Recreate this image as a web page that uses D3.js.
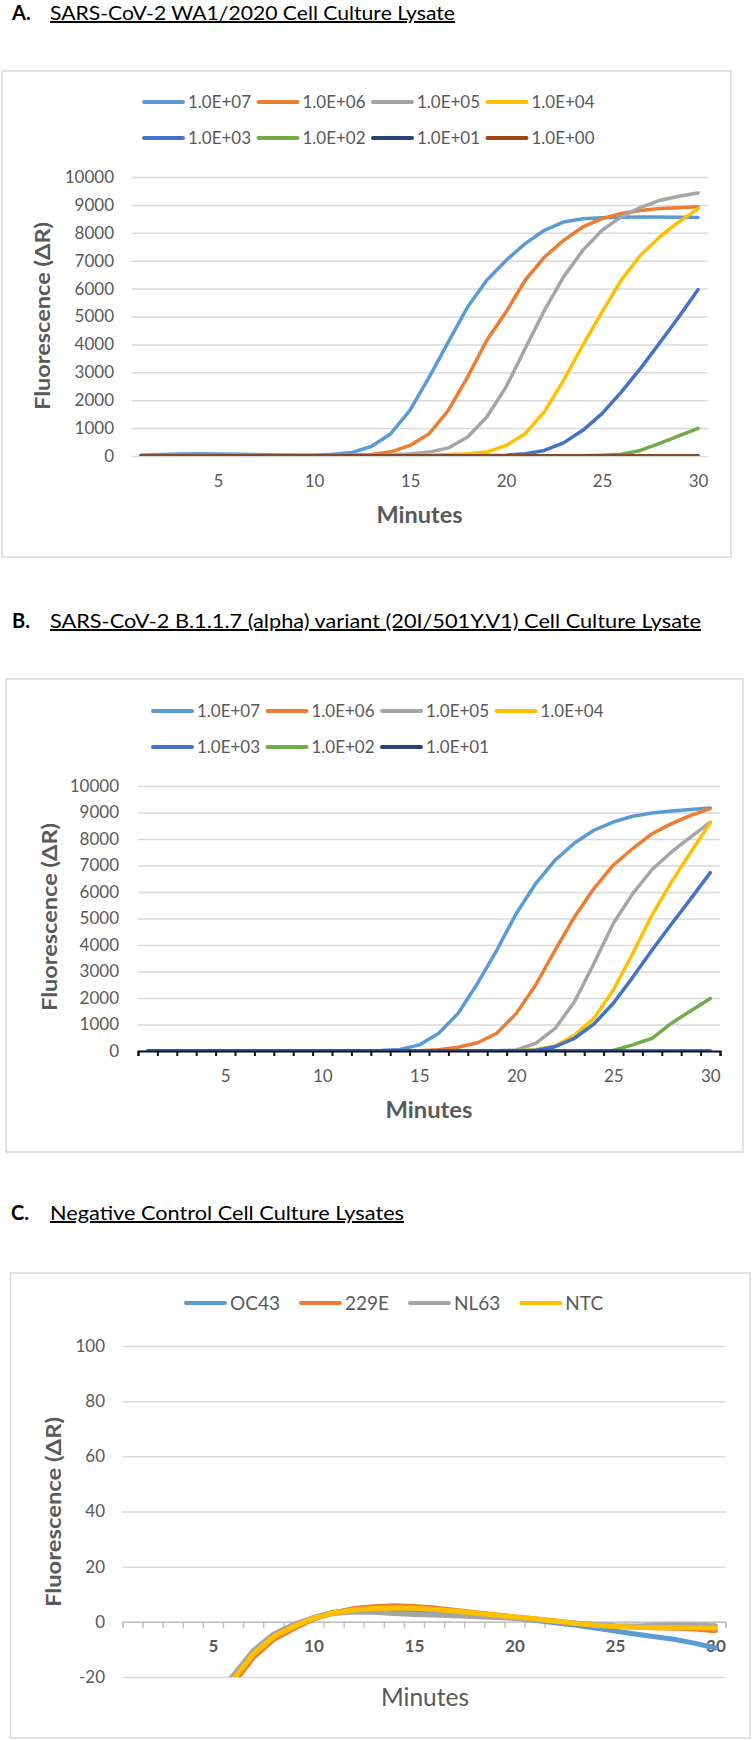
<!DOCTYPE html>
<html>
<head>
<meta charset="utf-8">
<script src="https://cdn.jsdelivr.net/npm/d3@7"></script>
<style>
  body { margin: 0; background: #fff; }
  svg text { font-family: Lato, "Open Sans", sans-serif; }
</style>
</head>
<body>
<div id="chart-area"></div>
<script>

    // ---- data ----
    var minutes = [1, 2, 3, 4, 5, 6, 7, 8, 9, 10, 11, 12, 13, 14, 15, 16, 17, 18, 19, 20, 21, 22, 23, 24, 25, 26, 27, 28, 29, 30];
    var xTickLabels = [5, 10, 15, 20, 25, 30];

    // A. WA1/2020
    var namesA = ['1.0E+07', '1.0E+06', '1.0E+05', '1.0E+04', '1.0E+03', '1.0E+02', '1.0E+01', '1.0E+00'];
    var a7 = [30, 50, 70, 80, 70, 60, 50, 40, 30, 30, 60, 130, 350, 800, 1640, 2830, 4090, 5340, 6300, 7010, 7610, 8090, 8390, 8500, 8540, 8560, 8570, 8570, 8560, 8550];
    var a6 = [20, 30, 40, 40, 40, 30, 30, 20, 20, 20, 20, 30, 50, 150, 380, 800, 1640, 2830, 4150, 5160, 6300, 7130, 7730, 8210, 8510, 8690, 8800, 8870, 8900, 8930];
    var a5 = [10, 20, 20, 20, 20, 20, 20, 20, 20, 20, 20, 20, 30, 40, 70, 140, 290, 680, 1400, 2470, 3850, 5220, 6420, 7370, 8090, 8570, 8900, 9160, 9310, 9430];
    var a4 = [10, 10, 10, 10, 10, 10, 10, 10, 10, 10, 10, 10, 10, 10, 20, 30, 50, 80, 140, 380, 800, 1580, 2710, 3970, 5160, 6300, 7190, 7850, 8390, 8860];
    var a3 = [0, 0, 0, 0, 0, 0, 0, 0, 0, 0, 0, 0, 0, 0, 0, 0, 0, 0, 20, 30, 80, 200, 470, 920, 1520, 2290, 3130, 4050, 4980, 5960];
    var a2 = [0, 0, 0, 0, 0, 0, 0, 0, 0, 0, 0, 0, 0, 0, 0, 0, 0, 0, 0, 0, 0, 0, 0, 10, 30, 60, 200, 450, 720, 990];
    var a1 = [5, 5, 5, 5, 5, 5, 5, 5, 5, 5, 5, 5, 5, 5, 5, 5, 5, 5, 5, 5, 5, 5, 5, 5, 5, 5, 10, 10, 10, 10];
    var a0 = [0, 0, 0, 0, 0, 0, 0, 0, 0, 0, 0, 0, 0, 0, 0, 0, 0, 0, 0, 0, 0, 0, 0, 0, 0, 0, 0, 0, 0, 0];

    // B. B.1.1.7
    var namesB = ['1.0E+07', '1.0E+06', '1.0E+05', '1.0E+04', '1.0E+03', '1.0E+02', '1.0E+01'];
    var b7 = [10, 10, 10, 10, 10, 10, 10, 10, 10, 10, 10, 10, 20, 60, 230, 670, 1420, 2550, 3810, 5190, 6320, 7200, 7850, 8330, 8640, 8860, 8980, 9060, 9110, 9170];
    var b6 = [10, 10, 10, 10, 10, 10, 10, 10, 10, 10, 10, 10, 10, 10, 10, 50, 140, 310, 670, 1420, 2490, 3810, 5060, 6130, 7010, 7640, 8200, 8580, 8890, 9150];
    var b5 = [10, 10, 10, 10, 10, 10, 10, 10, 10, 10, 10, 10, 10, 10, 10, 10, 10, 10, 10, 40, 290, 850, 1860, 3300, 4810, 5940, 6850, 7510, 8080, 8640];
    var b4 = [10, 10, 10, 10, 10, 10, 10, 10, 10, 10, 10, 10, 10, 10, 10, 10, 10, 10, 10, 10, 50, 190, 600, 1230, 2300, 3680, 5130, 6380, 7510, 8610];
    var b3 = [0, 0, 0, 0, 0, 0, 0, 0, 0, 0, 0, 0, 0, 0, 0, 0, 0, 0, 0, 0, 30, 160, 480, 1020, 1800, 2780, 3810, 4790, 5750, 6730];
    var b2 = [0, 0, 0, 0, 0, 0, 0, 0, 0, 0, 0, 0, 0, 0, 0, 0, 0, 0, 0, 0, 0, 0, 0, 0, 20, 230, 480, 1050, 1520, 1980];
    var b1 = [0, 0, 0, 0, 0, 0, 0, 0, 0, 0, 0, 0, 0, 0, 0, 0, 0, 0, 0, 0, 0, 0, 0, 0, 0, 0, 0, 0, 0, 0];

    // C. negative controls
    var namesC = ['OC43', '229E', 'NL63', 'NTC'];
    var cOC43 = [-95, -75, -55, -40, -30, -21, -12, -5.5, -1.5, 1.5, 3.5, 4.2, 4.5, 4.4, 4.2, 3.8, 3.2, 2.6, 2.0, 1.4, 0.6, -0.3, -1.2, -2.2, -3.3, -4.4, -5.4, -6.4, -7.8, -9.5];
    var c229E = [-98, -78, -58, -42, -32, -22.5, -13, -6.5, -2.5, 1, 3.3, 4.8, 5.5, 5.8, 5.6, 5, 4.2, 3.4, 2.6, 1.8, 1.1, 0.3, -0.5, -1.2, -1.6, -1.9, -2.1, -2.3, -2.6, -3.2];
    var cNL63 = [-90, -70, -50, -36, -27, -19.5, -10.5, -4.5, -1, 1.5, 3, 3.6, 3.5, 3, 2.7, 2.5, 2.2, 1.9, 1.6, 1.3, 0.8, 0.2, -0.4, -1, -1.4, -1.5, -1.3, -1.1, -1.2, -1.4];
    var cNTC = [-95, -75, -55, -40, -30, -21, -11.8, -5.5, -1.8, 1.3, 3.2, 4.3, 4.8, 5, 4.9, 4.5, 3.9, 3.2, 2.5, 1.8, 1.1, 0.3, -0.5, -1.2, -1.7, -2, -2.1, -2.1, -2.1, -2.2];

    var yTicksAB = [0, 1000, 2000, 3000, 4000, 5000, 6000, 7000, 8000, 9000, 10000];
    var yTicksC = [-20, 0, 20, 40, 60, 80, 100];

    // excel palette
    var palette = ['#5B9BD5', '#ED7D31', '#A5A5A5', '#FFC000', '#4472C4', '#70AD47', '#264478', '#9E480E'];
    var textGrey = '#595959';
    var gridGrey = '#d9d9d9';

    var svg = d3.select('#chart-area')
        .append('svg')
        .attr('width', 752)
        .attr('height', 1740);

    function drawPanel(p) {
      var g = svg.append('g');

      // heading
      g.append('text')
        .attr('x', p.letterX).attr('y', p.titleY)
        .attr('font-size', '20px').attr('font-weight', 'bold')
        .text(p.letter);
      g.append('text')
        .attr('x', 50).attr('y', p.titleY)
        .attr('font-size', '20px')
        .attr('textLength', p.titleLen).attr('lengthAdjust', 'spacingAndGlyphs')
        .style('text-decoration', 'underline')
        .text(p.title);

      // chart frame
      g.append('rect')
        .attr('x', p.box[0]).attr('y', p.box[1])
        .attr('width', p.box[2] - p.box[0]).attr('height', p.box[3] - p.box[1])
        .attr('fill', '#fff').attr('stroke', gridGrey).attr('stroke-width', 1.5);

      var xScale = d3.scaleLinear().domain([0.5, 30.5]).range([p.x0, p.x1]);
      var yScale = d3.scaleLinear().domain([p.yMin, p.yMax]).range([p.yBot, p.yTop]);

      // gridlines + y labels
      var yAxis = g.append('g')
        .attr('transform', `translate(${p.x0},0)`)
        .call(d3.axisLeft(yScale)
          .tickValues(p.yTicks)
          .tickFormat((d) => String(d))
          .tickSize(-(p.x1 - p.x0))
          .tickPadding(p.x0 - p.yLabelX));
      yAxis.attr('font-family', null).attr('font-size', p.yTickSize);
      yAxis.select('.domain').remove();
      yAxis.selectAll('line').attr('stroke', gridGrey).attr('stroke-width', 1.5);
      yAxis.selectAll('text').attr('fill', textGrey);

      // tick marks on the category axis
      if (p.tickColor) {
        var tk = g.append('g')
          .attr('transform', `translate(0,${yScale(0)})`)
          .call(d3.axisBottom(xScale).tickValues(d3.range(0.5, 31, 1)).tickSize(p.tickLen).tickFormat(''));
        tk.select('.domain').attr('stroke', p.tickColor).attr('stroke-width', p.tickW);
        tk.selectAll('line').attr('stroke', p.tickColor).attr('stroke-width', p.tickW);
      }

      // x labels
      var xAxis = g.append('g')
        .attr('transform', `translate(0,${yScale(0)})`)
        .call(d3.axisBottom(xScale).tickValues(xTickLabels).tickFormat((d) => String(d)).tickSize(0).tickPadding(p.xLabelBase - yScale(0) - 12));
      xAxis.attr('font-family', null).attr('font-size', p.xTickSize);
      xAxis.select('.domain').remove();
      xAxis.selectAll('text').attr('fill', textGrey).attr('font-weight', p.xTickBold ? 'bold' : null);

      // series
      var clipId = 'clip' + p.letter[0];
      g.append('clipPath').attr('id', clipId)
        .append('rect')
        .attr('x', p.x0).attr('y', p.yTop - 10)
        .attr('width', p.x1 - p.x0).attr('height', p.yBot - p.yTop + 10);

      var line = d3.line()
        .x((d, i) => xScale(minutes[i]))
        .y((d) => yScale(d));

      var lines = g.append('g').attr('clip-path', `url(#${clipId})`);
      p.series.forEach((s, i) => {
        lines.append('path')
          .attr('d', line(s))
          .attr('fill', 'none')
          .attr('stroke', palette[i])
          .attr('stroke-width', p.lineW)
          .attr('stroke-linejoin', 'round')
          .attr('stroke-linecap', 'round');
      });

      // legend
      var lx = p.legX;
      p.names.forEach((name, i) => {
        var col = i % p.perRow;
        var row = Math.floor(i / p.perRow);
        var x0 = p.legPitch ? p.legX + col * p.legPitch : lx;
        var ly = p.legRows[row];
        g.append('line')
          .attr('x1', x0 + 2).attr('x2', x0 + 41)
          .attr('y1', ly).attr('y2', ly)
          .attr('stroke', palette[i]).attr('stroke-width', 4)
          .attr('stroke-linecap', 'round');
        var t = g.append('text')
          .attr('x', x0 + 46).attr('y', ly).attr('dy', '0.35em')
          .attr('font-size', p.legSize).attr('fill', textGrey)
          .text(name);
        if (p.legTextLen) t.attr('textLength', p.legTextLen).attr('lengthAdjust', 'spacingAndGlyphs');
        lx = x0 + 46 + t.node().getComputedTextLength() + 19;
      });

      // axis titles
      g.append('text')
        .attr('x', p.minX).attr('y', p.minY).attr('dy', '0.35em')
        .attr('text-anchor', 'middle')
        .attr('font-size', p.minSize).attr('font-weight', p.minBold ? 'bold' : 'normal')
        .attr('fill', textGrey)
        .attr('textLength', p.minLen).attr('lengthAdjust', 'spacingAndGlyphs')
        .text('Minutes');
      g.append('text')
        .attr('transform', `translate(${p.yTitleX},${p.yTitleY}) rotate(-90)`)
        .attr('dy', '0.35em')
        .attr('text-anchor', 'middle')
        .attr('font-size', '21px').attr('font-weight', 'bold')
        .attr('fill', textGrey)
        .attr('textLength', p.yTitleLen).attr('lengthAdjust', 'spacingAndGlyphs')
        .text('Fluorescence (ΔR)');
    }

    drawPanel({
      letter: 'A.', letterX: 12, titleY: 20, titleLen: 405,
      title: 'SARS-CoV-2 WA1/2020 Cell Culture Lysate',
      box: [2, 71, 731, 557],
      x0: 131.6, x1: 707.6, yTop: 177, yBot: 456, yMin: 0, yMax: 10000,
      yTicks: yTicksAB, yLabelX: 114, yTickSize: '17px',
      xLabelBase: 487, xTickSize: '17px', xTickBold: false,
      tickColor: null,
      series: [a7, a6, a5, a4, a3, a2, a1, a0], lineW: 3.5,
      names: namesA, legX: 142, legPitch: 114.5, perRow: 4, legRows: [102, 138], legSize: '18px', legTextLen: 63,
      minX: 419.6, minY: 515, minSize: '22px', minBold: true, minLen: 86,
      yTitleX: 43, yTitleY: 316, yTitleLen: 188
    });

    drawPanel({
      letter: 'B.', letterX: 12, titleY: 628, titleLen: 651,
      title: 'SARS-CoV-2 B.1.1.7 (alpha) variant (20I/501Y.V1) Cell Culture Lysate',
      box: [6, 679, 743, 1152],
      x0: 138, x1: 720, yTop: 786, yBot: 1051, yMin: 0, yMax: 10000,
      yTicks: yTicksAB, yLabelX: 119, yTickSize: '17px',
      xLabelBase: 1082, xTickSize: '17px', xTickBold: false,
      tickColor: '#111', tickW: 2, tickLen: 5,
      series: [b7, b6, b5, b4, b3, b2, b1], lineW: 3.5,
      names: namesB, legX: 151, legPitch: 114.5, perRow: 4, legRows: [711, 747], legSize: '18px', legTextLen: 63,
      minX: 429, minY: 1110, minSize: '22px', minBold: true, minLen: 87,
      yTitleX: 50, yTitleY: 917, yTitleLen: 188
    });

    drawPanel({
      letter: 'C.', letterX: 11, titleY: 1220, titleLen: 354,
      title: 'Negative Control Cell Culture Lysates',
      box: [10.5, 1273, 750, 1738],
      x0: 122.5, x1: 725.5, yTop: 1346, yBot: 1677, yMin: -20, yMax: 100,
      yTicks: yTicksC, yLabelX: 105, yTickSize: '17px',
      xLabelBase: 1652, xTickSize: '17px', xTickBold: true,
      tickColor: '#bfbfbf', tickW: 1.5, tickLen: 6,
      series: [cOC43, c229E, cNL63, cNTC], lineW: 5,
      names: namesC, legX: 184, legPitch: null, perRow: 4, legRows: [1303], legSize: '19px', legTextLen: null,
      minX: 425, minY: 1697, minSize: '25px', minBold: false, minLen: 88,
      yTitleX: 54, yTitleY: 1512, yTitleLen: 190
    });

</script>
</body>
</html>
